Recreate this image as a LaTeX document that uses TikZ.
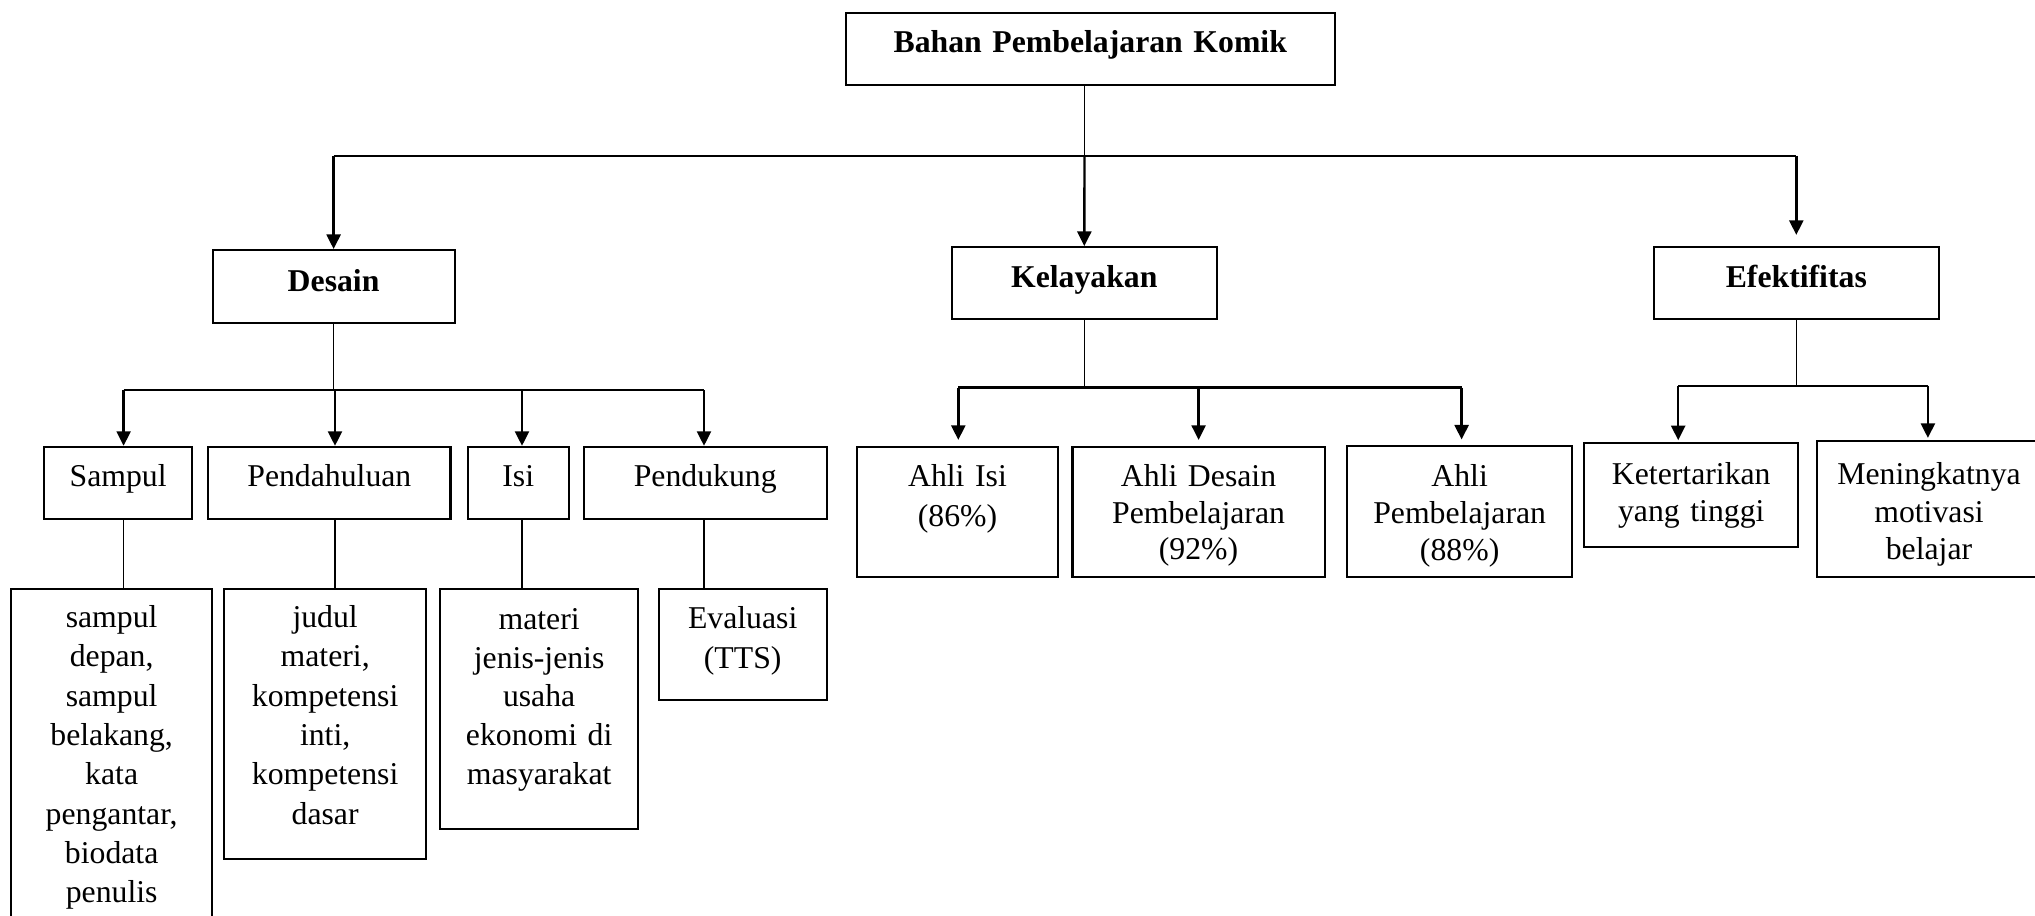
\documentclass[tikz,border=0pt]{standalone}
\usepackage{fontspec}
\setmainfont{Liberation Serif}
\usetikzlibrary{arrows.meta, positioning, calc}

\begin{document}
\begin{tikzpicture}[
  x=0.378pt, y=-0.378pt,
  kotak/.style={rectangle, draw, line width=0.8pt, anchor=north, inner xsep=0pt, inner ysep=0pt,
    align=center, font=\fontsize{12}{15}\selectfont},
  induk/.style={kotak, font=\fontsize{12}{15}\selectfont\bfseries},
  garis/.style={line width=0.6pt},
  cabang/.style={line width=0.9pt},
  panah/.style={-{Triangle[length=5.5pt, width=5.3pt]}, line width=0.9pt}
]
\useasboundingbox (0,0) rectangle (2035,916);
\clip (0,0) rectangle (2035,916);

% Judul utama
\node[induk, text width=184.7pt, text height=15pt, text depth=12.2pt] (komik) at (1090.3,12) {Bahan Pembelajaran Komik};

% Tingkat pertama
\node[induk, text width=91.5pt, text height=15.5pt, text depth=12.1pt] (desain) at (333.6,249) {Desain};
\node[induk, text width=100pt, text height=15.1pt, text depth=12.1pt] (layak) at (1084.3,246) {Kelayakan};
\node[induk, text width=107.6pt, text height=15.1pt, text depth=12.1pt] (efektif) at (1796.3,246) {Efektifitas};

\coordinate (bus1) at (1084.5,155.7);
\draw[garis] (komik.south -| bus1) -- (bus1);
\draw[cabang] (desain.north |- bus1) -- (efektif.north |- bus1);
\draw[panah] (desain.north |- bus1) -- (desain.north);
\draw[panah] (bus1) -- (layak.north);
\draw[panah] (efektif.north |- bus1) -- ([yshift=4.2pt]efektif.north);

% Desain: bagian komik
\node[kotak, text width=56.1pt, text height=14.8pt, text depth=12.5pt] (sampul) at (118.15,445.8) {Sampul};
\node[kotak, text width=91.6pt, text height=14.8pt, text depth=12.5pt] (pendahuluan) at (329.35,445.8) {Pendahuluan};
\node[kotak, text width=38.1pt, text height=14.8pt, text depth=12.5pt] (isi) at (518.25,445.8) {Isi};
\node[kotak, text width=91.8pt, text height=14.8pt, text depth=12.5pt] (pendukung) at (705.25,445.8) {Pendukung};

% Desain: rincian
\node[kotak, text width=76.1pt, text height=14.6pt, text depth=118.4pt, font=\fontsize{12}{14.85}\selectfont] (rSampul) at (111.65,588)
  {sampul\\depan,\\sampul\\belakang,\\kata\\pengantar,\\biodata\\penulis};
\node[kotak, text width=76.5pt, text height=14.6pt, text depth=87.3pt, font=\fontsize{12}{14.85}\selectfont] (rPendahuluan) at (325.15,588)
  {judul\\materi,\\kompetensi\\inti,\\kompetensi\\dasar};
\node[kotak, text width=75pt, text height=15.2pt, text depth=75.4pt, font=\fontsize{12}{14.65}\selectfont] (rIsi) at (539.15,588)
  {materi\\jenis-jenis\\usaha\\ekonomi di\\masyarakat};
\node[kotak, text width=63.5pt, text height=15pt, text depth=27.1pt] (rPendukung) at (742.7,588)
  {Evaluasi\\(TTS)};

\coordinate (bus2) at (333.4,390);
\coordinate (d1) at (123.6,390);
\coordinate (d2) at (335,390);
\coordinate (d3) at (522,390);
\coordinate (d4) at (704,390);
\draw[garis] (desain.south) -- (desain.south |- bus2);
\draw[cabang] (d1) -- (d4);
\foreach \d/\n in {d1/sampul, d2/pendahuluan, d3/isi, d4/pendukung}
  \draw[panah] (\d) -- (\d |- \n.north);
\foreach \d/\a/\b in {d1/sampul/rSampul, d2/pendahuluan/rPendahuluan, d3/isi/rIsi, d4/pendukung/rPendukung}
  \draw[garis] (\d |- \a.south) -- (\d |- \b.north);

% Kelayakan: validasi ahli
\node[kotak, text width=76.2pt, text height=15.2pt, text depth=33.9pt] (ahliIsi) at (957.5,445.7)
  {Ahli Isi\\(86\%)};
\node[kotak, text width=95.3pt, text height=15.2pt, text depth=33.9pt, font=\fontsize{12}{13.7}\selectfont] (ahliDesain) at (1198.55,445.7)
  {Ahli Desain\\Pembelajaran\\(92\%)};
\node[kotak, text width=84.9pt, text height=15.3pt, text depth=34pt, font=\fontsize{12}{14}\selectfont] (ahliBelajar) at (1459.65,445.3)
  {Ahli\\Pembelajaran\\(88\%)};

\coordinate (bus3) at (1084.3,387.5);
\coordinate (k1) at (958.3,387.5);
\coordinate (k2) at (1198.6,387.5);
\coordinate (k3) at (1461.6,387.5);
\draw[garis] (layak.south) -- (bus3);
\draw[cabang] (k1) -- (k3);
\foreach \k/\n in {k1/ahliIsi, k2/ahliDesain, k3/ahliBelajar}
  \draw[panah] (\k) -- ([yshift=2.2pt]\k |- \n.north);

% Efektifitas: hasil
\node[kotak, text width=80.9pt, text height=15.5pt, text depth=23.6pt, font=\fontsize{12}{14.1}\selectfont] (tertarik) at (1691.25,442.3)
  {Ketertarikan\\yang tinggi};
\node[kotak, text width=85pt, text height=16.4pt, text depth=35pt, font=\fontsize{12}{14.2}\selectfont] (motivasi) at (1929,440)
  {Meningkatnya\\motivasi\\belajar};

\coordinate (bus4) at (1796.4,385.7);
\coordinate (e1) at (1678.2,385.7);
\coordinate (e2) at (1927.9,385.7);
\draw[garis] (efektif.south -| bus4) -- (bus4);
\draw[cabang] (e1) -- (e2);
\foreach \e/\n in {e1/tertarik, e2/motivasi}
  \draw[panah] (\e) -- ([yshift=0.8pt]\e |- \n.north);
\end{tikzpicture}
\end{document}
